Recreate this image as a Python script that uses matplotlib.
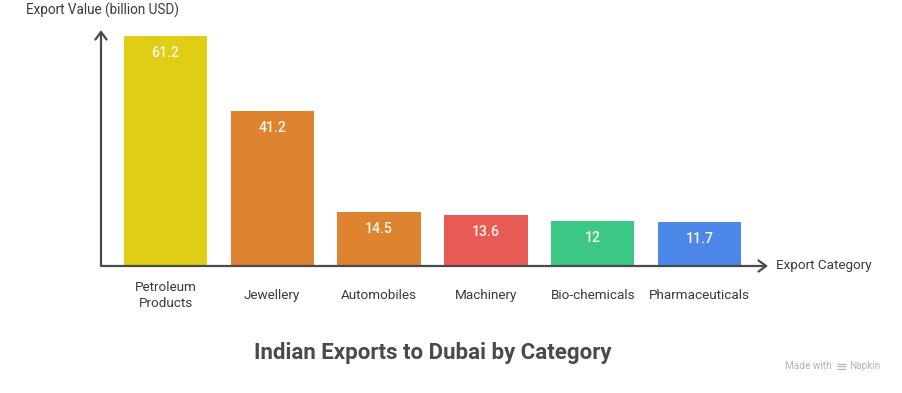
"""Indian exports to Dubai, bar chart with arrow axes."""
import matplotlib as mpl
mpl.use("Agg")

import matplotlib.pyplot as plt
import numpy as np

categories = ["Petroleum\nProducts", "Jewellery", "Automobiles", "Machinery",
              "Bio-chemicals", "Pharmaceuticals"]
values = [61.2, 41.2, 14.5, 13.6, 12, 11.7]
colours = ["#e0cd15", "#de8330", "#de8330", "#e75a55", "#3cc884", "#4d88e8"]

W, H = 903, 393
plt.rcParams["font.family"] = ["Roboto", "DejaVu Sans"]

fig = plt.figure(figsize=(W / 100, H / 100), dpi=100)

# axes box in pixels: spine at x=101, baseline at y=266
left, right, top, bottom = 101, 768, 30, 266
ax = fig.add_axes([left / W, 1 - bottom / H, (right - left) / W, (bottom - top) / H])

step = 106.8
first = 165.5
ax.set_xlim((left - first) / step, (right - first) / step)
ax.set_ylim(0, (bottom - top) / 3.758)

x = np.arange(len(values))
ax.bar(x, values, width=83.5 / step, color=colours, zorder=2)

for xi, v in zip(x, values):
    ax.annotate(f"{v:g}", (xi, v), xytext=(0, -17), textcoords="offset pixels",
                ha="center", va="center", color="#fdf8e8", fontsize=10.2,
                fontweight="medium")

ax.set_xticks(x, categories)
ax.set_yticks([])
ax.tick_params(axis="x", length=0, pad=21.5, labelsize=9.7, labelcolor="#3a3a3a")
for lab in ax.get_xticklabels():
    lab.set_va("center")
    lab.set_linespacing(1.3)

for s in ax.spines.values():
    s.set_visible(False)

# arrow axes
arrow = dict(arrowstyle="->,head_length=0.55,head_width=0.4", color="#4a4a4a", lw=1.6,
             shrinkA=0, shrinkB=0)
ax.annotate("", xy=(0, 1), xytext=(0, 0), xycoords="axes fraction", arrowprops=arrow,
            annotation_clip=False, zorder=3)
ax.annotate("", xy=(1, 0), xytext=(0, 0), xycoords="axes fraction", arrowprops=arrow,
            annotation_clip=False, zorder=3)

fig.text(26 / W, 1 - 10 / H, "Export Value (billion USD)", ha="left", va="center",
         fontsize=9.75, color="#3a3a3a")
fig.text(776 / W, 1 - 266 / H, "Export Category", ha="left", va="center",
         fontsize=9.7, color="#3a3a3a")
fig.text(432.5 / W, 1 - 353 / H, "Indian Exports to Dubai by Category", ha="center",
         va="center", fontsize=16, fontweight="bold", color="#4a4a4a")
fig.text(832 / W, 1 - 366 / H, "Made with", ha="right", va="center",
         fontsize=7.2, color="#b5b5b5")
fig.text(841 / W, 1 - 366.5 / H, "\u2261", ha="center", va="center",
         fontsize=10, color="#b0b0b0")
fig.text(881 / W, 1 - 366 / H, "Napkin", ha="right", va="center",
         fontsize=7.2, color="#b5b5b5")

fig.savefig("out.png", dpi=100)
